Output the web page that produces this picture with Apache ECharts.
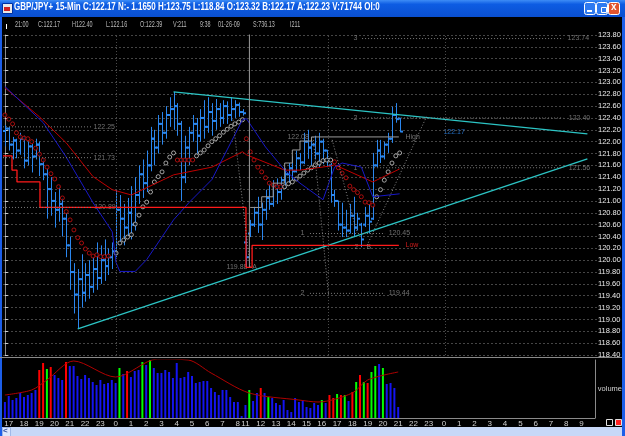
<!DOCTYPE html>
<html>
<head>
<meta charset="utf-8">
<script src="https://cdn.jsdelivr.net/npm/echarts@6/dist/echarts.min.js"></script>
<style>
  html, body { margin: 0; padding: 0; background: #000; }
  #main { width: 625px; height: 436px; }
</style>
</head>
<body>
<div id="main"></div>
<script>
// sessions: start time and number of 15-min bars (weekend gap between them)
var sessions = [['16:45', 63], ['11:00', 92]];

// [open, close, low, high], one per 15-min bar
var ohlc = [
  [122.18, 122.22, 121.92, 122.28], [122.22, 121.95, 121.85, 122.25], [121.95, 122.02, 121.70, 122.08],
  [122.02, 121.85, 121.72, 122.05], [121.85, 122.05, 121.78, 122.15], [122.05, 121.68, 121.55, 122.10],
  [121.68, 121.92, 121.60, 122.00], [121.92, 121.75, 121.48, 121.96], [121.75, 121.95, 121.70, 122.05],
  [121.95, 121.62, 121.42, 122.00], [121.62, 121.45, 121.35, 121.72], [121.45, 121.20, 120.70, 121.55],
  [121.20, 121.00, 120.75, 121.40], [121.00, 120.85, 120.55, 121.15], [120.85, 120.95, 120.65, 121.25],
  [120.95, 120.70, 120.40, 121.05], [120.70, 120.25, 120.05, 120.80], [120.25, 119.80, 119.50, 120.40],
  [119.80, 119.42, 119.10, 119.95], [119.42, 119.68, 118.84, 119.85], [119.68, 119.45, 119.20, 120.10],
  [119.45, 119.75, 119.30, 119.95], [119.75, 119.55, 119.35, 120.00], [119.55, 119.85, 119.45, 120.05],
  [119.85, 119.70, 119.50, 120.30], [119.70, 120.00, 119.60, 120.25], [120.00, 119.90, 119.65, 120.35],
  [119.90, 120.05, 119.75, 120.20], [120.05, 120.15, 119.85, 120.30], [120.15, 120.85, 120.05, 121.20],
  [120.85, 120.70, 120.30, 121.10], [120.70, 120.55, 120.25, 120.95], [120.55, 120.80, 120.40, 121.05],
  [120.80, 120.60, 120.35, 121.25], [120.60, 121.10, 120.50, 121.40], [121.10, 121.45, 120.95, 121.60],
  [121.45, 121.30, 121.05, 121.70], [121.30, 121.60, 121.15, 121.85], [121.60, 122.05, 121.50, 122.25],
  [122.05, 121.90, 121.60, 122.20], [121.90, 122.30, 121.80, 122.45], [122.30, 122.15, 121.95, 122.50],
  [122.15, 122.45, 122.05, 122.60], [122.45, 122.55, 122.25, 122.75], [122.55, 122.60, 122.20, 122.84],
  [122.60, 122.30, 122.10, 122.65], [122.30, 121.40, 121.00, 122.35], [121.40, 121.90, 121.30, 122.10],
  [121.90, 122.15, 121.60, 122.25], [122.15, 122.30, 122.00, 122.45], [122.30, 122.10, 121.80, 122.40],
  [122.10, 122.40, 122.00, 122.55], [122.40, 122.25, 122.05, 122.70], [122.25, 122.50, 122.15, 122.75],
  [122.50, 122.35, 122.10, 122.65], [122.35, 122.55, 122.20, 122.72], [122.55, 122.40, 122.25, 122.65],
  [122.40, 122.60, 122.30, 122.70], [122.60, 122.45, 122.30, 122.68], [122.45, 122.55, 122.35, 122.75],
  [122.55, 122.62, 122.40, 122.70], [122.62, 122.50, 122.42, 122.66], [122.50, 122.48, 122.44, 122.55],
  [120.30, 120.05, 119.88, 120.40], [120.45, 120.60, 120.39, 120.68], [120.60, 120.80, 120.56, 120.90],
  [120.80, 120.60, 120.46, 121.07], [120.60, 120.85, 120.34, 120.97], [120.85, 121.05, 120.68, 121.19],
  [121.05, 120.95, 120.85, 121.30], [120.95, 121.25, 120.90, 121.35], [121.25, 121.15, 120.95, 121.38],
  [121.15, 121.35, 121.02, 121.41], [121.35, 121.45, 121.20, 121.55], [121.45, 121.55, 121.30, 121.64],
  [121.55, 121.50, 121.35, 121.75], [121.50, 121.72, 121.48, 121.85], [121.72, 121.65, 121.52, 121.81],
  [121.65, 122.00, 121.62, 122.15], [122.00, 121.90, 121.71, 122.20], [121.90, 121.95, 121.60, 122.08],
  [121.95, 121.80, 121.70, 122.10], [121.80, 122.00, 121.57, 122.15], [122.00, 121.85, 121.62, 122.05],
  [121.85, 121.70, 121.57, 121.86], [121.60, 121.10, 120.97, 121.64], [121.10, 121.00, 120.90, 121.19],
  [121.00, 120.60, 120.50, 121.00], [120.60, 120.55, 120.39, 120.97], [120.55, 120.50, 120.39, 120.85],
  [120.50, 120.75, 120.45, 120.95], [120.75, 120.55, 120.39, 121.07], [120.55, 120.70, 120.50, 120.80],
  [120.60, 120.35, 120.22, 120.63], [120.60, 120.75, 120.56, 120.90], [120.75, 120.65, 120.45, 120.95],
  [120.70, 121.60, 120.68, 121.81], [121.60, 121.85, 121.57, 122.03], [121.85, 121.75, 121.64, 122.03],
  [121.75, 121.95, 121.70, 122.00], [121.95, 122.05, 121.81, 122.15], [122.05, 122.45, 121.98, 122.59],
  [122.45, 122.38, 122.32, 122.65], [122.39, 122.17, 122.16, 122.40]
];

var volume = [
  16, 22, 18, 20, 25, 21, 23, 25, 28, 48, 55, 49, 51, 43, 40, 38, 56, 52, 52, 42,
  39, 43, 40, 36, 33, 38, 34, 35, 38, 35, 50, 44, 47, 41, 47, 48, 56, 53, 58, 50,
  45, 45, 48, 46, 40, 55, 40, 41, 46, 42, 35, 36, 37, 37, 30, 26, 23, 28, 28, 21,
  16, 16, 2, 13, 28, 17, 25, 30, 25, 21, 20, 15, 13, 18, 8, 6, 20, 16, 18, 11,
  10, 15, 13, 18, 15, 23, 20, 24, 23, 23, 17, 26, 36, 43, 36, 35, 46, 52, 54, 50,
  34, 35, 30, 11
];
// b = blue, r = red, g = green volume bar
var volumeKind = (
  'bbbbbbbbbrrgrbbbrbbbbbbbbbbbbbgbrbbbgbgbbbbbbbbbbbbbbbbbbbbbbbbbgbbrbgbbbbbbbbbbbbbgbrrgrgbrgrgrggbgbbbb'
).split('');

var volumeMa = [[0, 23], [7, 28], [11, 38], [18, 57], [29, 41], [40, 59], [48, 58], [54, 45],
  [64, 25], [77, 18], [82, 16], [91, 25], [95, 38], [103, 46]];

var maSlow = [[0, 122.91], [9, 122.42], [16, 121.98], [23, 121.41], [28, 121.19], [33, 121.10],
  [44, 121.44], [54, 121.57], [62, 121.83], [63, 121.78], [73, 121.52], [77, 121.52], [85, 121.59],
  [86, 121.61], [96, 121.32], [103, 121.54]];
var maFast = [[0, 122.93], [10, 122.32], [16, 121.74], [23, 120.97], [28, 120.48], [29, 119.96],
  [30, 119.81], [34, 119.81], [37, 120.01], [44, 120.68], [48, 120.97], [54, 121.36], [62, 122.37],
  [63, 122.39], [68, 121.91], [73, 121.52], [77, 121.30], [83, 121.02], [86, 121.57], [88, 121.64],
  [93, 121.57], [96, 121.07], [103, 121.12]];

var sarRed = [
  [0, 122.45], [1, 122.38], [2, 122.30], [3, 122.15], [4, 122.08], [5, 122.06], [6, 122.05], [7, 122.00],
  [8, 121.89], [9, 121.79], [10, 121.69], [11, 121.57], [12, 121.46], [13, 121.37], [14, 121.24],
  [15, 121.05], [16, 120.82], [17, 120.68], [18, 120.51], [19, 120.38], [20, 120.29], [21, 120.19],
  [22, 120.12], [23, 120.07], [24, 120.09], [25, 120.06], [26, 120.06], [27, 120.07],
  [45, 121.69], [46, 121.69], [47, 121.69], [48, 121.69], [49, 121.69],
  [63, 122.05], [64, 121.83], [65, 121.69], [66, 121.57], [67, 121.49], [68, 121.39], [69, 121.30],
  [70, 121.27], [71, 121.24], [72, 121.24],
  [86, 121.66], [87, 121.56], [88, 121.47], [89, 121.39], [90, 121.25], [91, 121.19], [92, 121.14],
  [93, 121.07], [94, 120.98], [95, 120.97], [96, 120.93]
];
var sarWhite = [
  [29, 120.12], [30, 120.29], [31, 120.34], [32, 120.39], [33, 120.43], [34, 120.61], [35, 120.76],
  [36, 120.90], [37, 120.98], [38, 121.15], [39, 121.32], [40, 121.41], [41, 121.49], [42, 121.64],
  [43, 121.74], [44, 121.81],
  [50, 121.76], [51, 121.81], [52, 121.86], [53, 121.93], [54, 122.00], [55, 122.05], [56, 122.10],
  [57, 122.16], [58, 122.21], [59, 122.26], [60, 122.30], [61, 122.33], [62, 122.37],
  [73, 121.24], [74, 121.29], [75, 121.32], [76, 121.37], [77, 121.42], [78, 121.47], [79, 121.52],
  [80, 121.56], [81, 121.61], [82, 121.64], [83, 121.68], [84, 121.69], [85, 121.69],
  [97, 121.07], [98, 121.19], [99, 121.35], [100, 121.49], [101, 121.64], [102, 121.76], [103, 121.81]
];

var trendTop = [[44, 122.84], [152, 122.13]];
var trendBottom = [[19, 118.84], [152, 121.71]];
var supportSteps = [[-0.5, 121.76], [1.85, 121.52], [3.15, 121.32], [9.15, 120.89], [62.9, 119.88],
  [64.5, 120.25], [102.8, 120.25]];
var resistSteps = [[64, 120.89], [67, 121.07], [70, 121.30], [73, 121.64], [75, 121.86], [77, 122.01],
  [80, 122.08], [102.8, 122.08]];
var markerLine = [[63.8, 123.9], [63.8, 119.88]];
var diagonals = [
  [[59.5, 122.37], [64, 119.88]],
  [[80.4, 122.08], [84.4, 119.44]],
  [[85.4, 122.03], [91.9, 120.46]],
  [[94.5, 120.25], [110, 122.42]]
];
// [fromSlot, toSlot, price]
var levels = [
  [-0.5, 22.5, 122.25], [-0.5, 22.5, 121.73], [-0.5, 22.5, 120.89],
  [93.2, 145.7, 123.74], [93.2, 145.7, 122.40], [93.2, 145.7, 121.56],
  [79.6, 99.2, 120.45], [79.6, 99.2, 119.44]
];
// [slot, price, text, colour]
var notes = [
  [23.0, 122.25, '122.25', 'g'], [23.0, 121.73, '121.73', 'g'], [23.2, 120.89, '120.89', 'g'],
  [57.7, 119.88, '119.88', 'g'], [64.4, 119.88, 'A', 'g'], [73.6, 122.08, '122.08', 'g'],
  [104.4, 122.08, 'High', 'g'], [104.4, 120.25, 'Low', 'r'], [114.3, 122.17, '122.17', 'b'],
  [90.8, 123.74, '3', 'g'], [146.7, 123.74, '123.74', 'g'],
  [90.8, 122.40, '2', 'g'], [147.0, 122.40, '122.40', 'g'],
  [90.8, 121.56, '1', 'g'], [147.0, 121.56, '121.56', 'g'],
  [77.0, 120.45, '1', 'g'], [100.0, 120.45, '120.45', 'g'],
  [77.0, 119.44, '2', 'g'], [100.0, 119.44, '119.44', 'g'],
  [91.1, 120.22, '2', 'g'], [94.2, 120.22, 'B', 'g']
];
var dayLines = [29, 84.5, 115];
var lastPrice = 122.17;

var titleText = 'GBP/JPY+ 15-Min C:122.17 N:- 1.1650 H:123.75 L:118.84 O:123.32 B:122.17 A:122.23 V:71744 OI:0';
// [text, left x] of the data-window line under the title
var infoItems = [['21:00', 15], ['C:122.17', 38], ['H122.40', 72], ['L:122.16', 106], ['O:122.39', 140],
  ['V:211', 173], ['9:38', 200], ['01-26-09', 218], ['S:736.13', 253], ['I211', 290]];

var slotTimes = [];
sessions.forEach(function (s) {
  var hm = s[0].split(':');
  var m = +hm[0] * 60 + +hm[1];
  for (var k = 0; k < s[1]; k++) {
    var t = (m + 15 * k) % 1440;
    slotTimes.push(Math.floor(t / 60) + ':' + String(t % 60).padStart(2, '0'));
  }
});

var FONT = "'Liberation Sans', Arial, sans-serif";
var BAR = '#2a86ee';
var noteColors = { g: '#8c8c8c', r: '#ff2020', b: '#2a86ee' };
var volColors = { b: '#1414f0', r: '#ff0000', g: '#00ff00' };

function renderOhlc(params, api) {
  var x = Math.round(api.coord([api.value(0), api.value(1)])[0]) + 0.5;
  var yo = api.coord([api.value(0), api.value(1)])[1];
  var yc = api.coord([api.value(0), api.value(2)])[1];
  var yl = api.coord([api.value(0), api.value(3)])[1];
  var yh = api.coord([api.value(0), api.value(4)])[1];
  return {
    type: 'group',
    children: [
      { type: 'line', shape: { x1: x, y1: yh, x2: x, y2: yl }, style: { stroke: BAR, lineWidth: 1 } },
      { type: 'line', shape: { x1: x - 2.5, y1: yo, x2: x, y2: yo }, style: { stroke: BAR, lineWidth: 2 } },
      { type: 'line', shape: { x1: x, y1: yc, x2: x + 2.5, y2: yc }, style: { stroke: BAR, lineWidth: 2 } }
    ]
  };
}

function plainLine(data, color, type, width, step) {
  return {
    type: 'line', xAxisIndex: 0, yAxisIndex: 0, data: data, symbol: 'none', silent: true,
    step: step || false, animation: false,
    lineStyle: { color: color, type: type || 'solid', width: width || 1 }
  };
}

var series = [
  {
    type: 'custom', xAxisIndex: 0, yAxisIndex: 0, renderItem: renderOhlc, animation: false,
    encode: { x: 0, y: [1, 2, 3, 4] },
    data: ohlc.map(function (d, i) { return [i, d[0], d[1], d[2], d[3]]; })
  },
  plainLine(maSlow, '#c00000', 'solid', 1),
  plainLine(maFast, '#1818c8', 'solid', 1),
  {
    type: 'scatter', xAxisIndex: 0, yAxisIndex: 0, data: sarRed, symbolSize: 4, animation: false,
    itemStyle: { color: '#000', borderColor: '#d01010', borderWidth: 1 }
  },
  {
    type: 'scatter', xAxisIndex: 0, yAxisIndex: 0, data: sarWhite, symbolSize: 4, animation: false,
    itemStyle: { color: '#000', borderColor: '#c8c8c8', borderWidth: 1 }
  },
  plainLine(trendTop, '#2cc4c4', 'solid', 1.3),
  Object.assign(plainLine(trendBottom, '#2cc4c4', 'solid', 1.3), {
    markLine: {
      silent: true, symbol: ['none', 'none'],
      lineStyle: { opacity: 0 },
      data: [{ yAxis: lastPrice }],
      label: {
        position: 'end', distance: 2, formatter: lastPrice.toFixed(2),
        color: '#000', backgroundColor: '#fff', borderColor: '#000', borderWidth: 1,
        padding: [1, 1, 0, 1], fontSize: 7.5, fontFamily: FONT
      }
    }
  }),
  plainLine(supportSteps, '#ff1a1a', 'solid', 1.3, 'end'),
  plainLine(resistSteps, '#9a9a9a', 'solid', 1, 'end'),
  plainLine(markerLine, '#9a9a9a', 'solid', 1),
  Object.assign(plainLine([], '#000'), {
    markLine: {
      silent: true, symbol: ['none', 'none'], label: { show: false },
      lineStyle: { color: '#4a4a4a', type: [1, 2], width: 1 },
      data: dayLines.map(function (v) { return { xAxis: v }; })
    }
  })
];

diagonals.forEach(function (d) { series.push(plainLine(d, '#8a8a8a', [1, 2], 1)); });
levels.forEach(function (l) {
  series.push(plainLine([[l[0], l[2]], [l[1], l[2]]], '#7a7a7a', [1, 2], 1));
});

series.push({
  type: 'scatter', xAxisIndex: 0, yAxisIndex: 0, symbolSize: 1, animation: false, silent: true,
  itemStyle: { color: 'transparent' },
  data: notes.map(function (n) {
    return {
      value: [n[0], n[1]],
      label: {
        show: true, position: 'right', distance: 0, formatter: n[2],
        color: noteColors[n[3]], fontSize: 7, fontFamily: FONT
      }
    };
  })
});

series.push({
  type: 'bar', xAxisIndex: 1, yAxisIndex: 1, barWidth: 2, animation: false,
  data: volume.map(function (v, i) {
    return { value: v, itemStyle: { color: volColors[volumeKind[i]] } };
  })
});
series.push({
  type: 'line', xAxisIndex: 1, yAxisIndex: 1, data: volumeMa, symbol: 'none', animation: false,
  smooth: 0.3, lineStyle: { color: '#b00000', width: 1 }
});

var isHour = function (i, v) { return /:00$/.test(v); };

var graphics = [
  {
    type: 'rect', left: 0, top: 0, shape: { width: 625, height: 17 }, silent: true,
    style: {
      fill: new echarts.graphic.LinearGradient(0, 0, 0, 1, [
        { offset: 0, color: '#3d8cf6' }, { offset: 0.25, color: '#0d5ce3' }, { offset: 1, color: '#0a4fd0' }
      ])
    }
  },
  { type: 'rect', left: 2, top: 3, shape: { width: 10, height: 10 }, style: { fill: '#e8e8e8', stroke: '#0030a0' } },
  { type: 'rect', left: 4, top: 7, shape: { width: 6, height: 4 }, style: { fill: '#d02020' } },
  {
    type: 'text', x: 14, y: 2, scaleX: 0.76, silent: true,
    style: { text: titleText, fill: '#fff', font: 'bold 10.5px ' + FONT }
  },
  { type: 'rect', left: 584, top: 2, shape: { width: 11, height: 12, r: 2 }, style: { fill: '#2f7af0', stroke: '#fff' } },
  { type: 'rect', left: 587, top: 10, shape: { width: 5, height: 2 }, style: { fill: '#fff' } },
  { type: 'rect', left: 596, top: 2, shape: { width: 11, height: 12, r: 2 }, style: { fill: '#2f7af0', stroke: '#fff' } },
  { type: 'rect', left: 599, top: 5, shape: { width: 5, height: 5 }, style: { fill: 'none', stroke: '#fff' } },
  { type: 'rect', left: 608, top: 2, shape: { width: 11, height: 12, r: 2 }, style: { fill: '#e2542e', stroke: '#fff' } },
  { type: 'text', left: 611, top: 2, style: { text: 'x', fill: '#fff', font: 'bold 10px ' + FONT } },
  { type: 'rect', left: 0, top: 17, shape: { width: 2, height: 419 }, style: { fill: '#1c5ee8' } },
  { type: 'rect', left: 622, top: 17, shape: { width: 3, height: 419 }, style: { fill: '#1c5ee8' } },
  { type: 'rect', left: 6, top: 24, shape: { width: 1, height: 5 }, style: { fill: '#fff' } },
  { type: 'rect', left: 0, top: 357, shape: { width: 622, height: 1 }, style: { fill: '#8a8a8a' } },
  { type: 'rect', left: 2, top: 427, shape: { width: 620, height: 9 }, style: { fill: '#c7d8f8' } },
  { type: 'rect', left: 2, top: 427, shape: { width: 8, height: 9 }, style: { fill: '#dfe8fb', stroke: '#9fb8e8' } },
  { type: 'text', left: 3, top: 427, style: { text: '<', fill: '#3050a0', font: 'bold 8px ' + FONT } },
  { type: 'rect', left: 606, top: 419, shape: { width: 6, height: 6 }, style: { fill: '#000', stroke: '#e0e0e0' } },
  { type: 'rect', left: 615, top: 419, shape: { width: 6, height: 6 }, style: { fill: '#ff2020', stroke: '#e0e0e0' } }
];
infoItems.forEach(function (it) {
  graphics.push({
    type: 'text', x: it[1], y: 20, scaleX: 0.64, silent: true,
    style: { text: it[0], fill: '#b8b8b8', font: '8.5px ' + FONT }
  });
});

var option = {
  backgroundColor: '#000',
  animation: false,
  visualMap: {
    type: 'piecewise', show: false, seriesIndex: 1, dimension: 0,
    pieces: [
      { lt: 33, color: '#c00000' }, { gte: 33, lt: 62.5, color: '#00b400' },
      { gte: 62.5, lt: 74, color: '#c00000' }, { gte: 74, lt: 85, color: '#00b400' },
      { gte: 85, lt: 95, color: '#c00000' }, { gte: 95, color: '#00b400' }
    ]
  },
  grid: [
    { left: 3, right: 28, top: 35, height: 320 },
    { left: 3, right: 28, top: 360, height: 58 }
  ],
  xAxis: [
    {
      type: 'value', gridIndex: 0, min: -0.5, max: slotTimes.length - 0.5,
      axisLine: { show: false }, axisTick: { show: false }, axisLabel: { show: false },
      splitLine: { show: false }
    },
    {
      type: 'category', gridIndex: 1, data: slotTimes, boundaryGap: true,
      axisLine: { lineStyle: { color: '#8a8a8a' } },
      axisTick: { interval: isHour, length: 2, lineStyle: { color: '#c0c0c0' } },
      axisLabel: {
        interval: isHour, formatter: function (v) { return v.split(':')[0]; },
        color: '#d0d0d0', fontSize: 8, fontFamily: FONT, margin: 2
      },
      splitLine: { show: false }
    }
  ],
  yAxis: [
    {
      type: 'value', gridIndex: 0, position: 'right', min: 118.4, max: 123.8, interval: 0.2,
      axisLine: { show: true, lineStyle: { color: '#8a8a8a' } },
      axisTick: { show: true, length: 3, lineStyle: { color: '#d0d0d0' } },
      axisLabel: {
        color: '#ececec', fontSize: 7.5, fontFamily: FONT, margin: 1,
        formatter: function (v) { return v.toFixed(2); }
      },
      splitLine: { show: true, lineStyle: { color: '#454545', type: [2, 2] } }
    },
    {
      type: 'value', gridIndex: 1, position: 'right', min: 0, max: 58,
      axisLine: { show: true, lineStyle: { color: '#8a8a8a' } },
      axisTick: { show: false }, axisLabel: { show: false }, splitLine: { show: false },
      name: 'volume', nameLocation: 'middle', nameRotate: 0, nameGap: 3,
      nameTextStyle: { color: '#d0d0d0', fontSize: 7.5, fontFamily: FONT, align: 'left' }
    }
  ],
  graphic: graphics,
  series: series
};

var chartDom = document.getElementById('main');
var myChart = echarts.init(chartDom);
option && myChart.setOption(option);
</script>
</body>
</html>
